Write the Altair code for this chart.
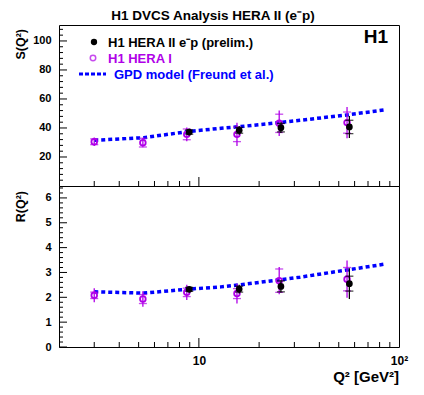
import altair as alt
import pandas as pd

# ---- data ----
q2_hera1 = [3.0, 5.25, 8.7, 15.5, 25.2, 55.0]
s_hera1 = [30.5, 29.9, 35.6, 35.6, 43.2, 43.7]
s_hera1_stat = [2.0, 3.0, 3.7, 5.0, 6.3, 7.3]
s_hera1_tot = [3.0, 3.2, 4.8, 8.0, 8.8, 10.7]
r_hera1 = [2.08, 1.93, 2.2, 2.15, 2.67, 2.73]
r_hera1_stat = [0.13, 0.18, 0.17, 0.2, 0.47, 0.47]
r_hera1_tot = [0.28, 0.31, 0.31, 0.4, 0.55, 0.75]

q2_hera2 = [8.95, 15.9, 25.7, 56.5]
s_hera2 = [37.2, 38.4, 40.2, 40.7]
s_hera2_stat = [1.5, 2.0, 2.9, 4.6]
s_hera2_tot = [2.2, 3.0, 3.7, 7.6]
r_hera2 = [2.32, 2.33, 2.44, 2.55]
r_hera2_stat = [0.08, 0.12, 0.22, 0.3]
r_hera2_tot = [0.12, 0.18, 0.25, 0.62]

q2_model = [3.0, 5.3, 8.9, 12.9, 16.0, 25.0, 32.0, 55.0, 84.0]
s_model = [31.5, 33.3, 37.6, 39.8, 40.9, 43.7, 45.3, 49.0, 52.4]
r_model = [2.22, 2.17, 2.33, 2.42, 2.5, 2.7, 2.81, 3.1, 3.33]

x_minor = [3, 4, 5, 6, 7, 8, 9, 20, 30, 40, 50, 60, 70, 80, 90]
x_major = [10]
x_labels = [10, 100]
s_major = [20, 40, 60, 80, 100]
s_minor = [4, 8, 12, 16, 24, 28, 32, 36, 44, 48, 52, 56, 64, 68, 72, 76, 84, 88, 92, 96, 104, 108]
r_major = [0, 1, 2, 3, 4, 5, 6]
r_minor = [0.2, 0.4, 0.6, 0.8, 1.2, 1.4, 1.6, 1.8, 2.2, 2.4, 2.6, 2.8, 3.2, 3.4, 3.6, 3.8,
           4.2, 4.4, 4.6, 4.8, 5.2, 5.4, 5.6, 5.8, 6.2, 6.4]

W, H = 340, 161
MAG = "#b000e8"
BLUE = "#0000ff"
FONT = "Liberation Sans"


def panel(vals1, st1, tt1, vals2, st2, tt2, model, domain, majors, minors, yvals, bottom):
    xaxis = None
    if bottom:
        xaxis = alt.Axis(values=x_labels, labelExpr="datum.value == 100 ? '10²' : '10'",
                         ticks=False, domain=False, grid=False, title=None, labelPadding=8,
                         labelFlush=False, labelFont=FONT, labelFontSize=12,
                         labelFontWeight="bold", labelColor="black")
    X = alt.X("q2:Q", scale=alt.Scale(type="log", domain=[2, 100], nice=False), axis=xaxis)

    def Y(f):
        return alt.Y(f + ":Q", scale=alt.Scale(domain=domain, nice=False, zero=False),
                     axis=alt.Axis(values=yvals, ticks=False, domain=False, grid=False, title=None,
                                   labelPadding=8, labelFont=FONT, labelFontSize=11,
                                   labelFontWeight="bold", labelColor="black"))

    def frame(q, v, st, tt):
        return pd.DataFrame({
            "q2": q, "v": v,
            "lo": [a - b for a, b in zip(v, tt)], "hi": [a + b for a, b in zip(v, tt)],
            "slo": [a - b for a, b in zip(v, st)], "shi": [a + b for a, b in zip(v, st)],
        })

    d1 = frame(q2_hera1, vals1, st1, tt1)
    d2 = frame(q2_hera2, vals2, st2, tt2)
    dm = pd.DataFrame({"q2": q2_model, "v": model})
    cap = "M-1,0L1,0"

    layers = []
    # axis ticks drawn inward
    layers.append(alt.Chart(pd.DataFrame({"v": majors})).mark_rule(color="black", strokeWidth=1)
                  .encode(y=Y("v"), x=alt.value(0), x2=alt.value(8)))
    layers.append(alt.Chart(pd.DataFrame({"v": minors})).mark_rule(color="black", strokeWidth=1)
                  .encode(y=Y("v"), x=alt.value(0), x2=alt.value(4)))
    layers.append(alt.Chart(pd.DataFrame({"q2": x_minor})).mark_rule(color="black", strokeWidth=1)
                  .encode(x=X, y=alt.value(H), y2=alt.value(H - 5)))
    layers.append(alt.Chart(pd.DataFrame({"q2": x_major})).mark_rule(color="black", strokeWidth=1)
                  .encode(x=X, y=alt.value(H), y2=alt.value(H - 9)))
    # model
    layers.append(alt.Chart(dm).mark_line(color=BLUE, strokeWidth=3.5, strokeDash=[4, 3])
                  .encode(x=X, y=Y("v")))
    # HERA I
    layers.append(alt.Chart(d1).mark_rule(color=MAG, strokeWidth=1.3).encode(x=X, y=Y("lo"), y2="hi"))
    for f in ["slo", "shi"]:
        layers.append(alt.Chart(d1).mark_point(shape=cap, size=64, color=MAG, strokeWidth=1.3, filled=False)
                      .encode(x=X, y=Y(f)))
    layers.append(alt.Chart(d1).mark_point(shape="circle", size=32, color=MAG, strokeWidth=1.8,
                                           filled=False, opacity=1).encode(x=X, y=Y("v")))
    # HERA II
    layers.append(alt.Chart(d2).mark_rule(color="black", strokeWidth=1.3).encode(x=X, y=Y("lo"), y2="hi"))
    for f in ["slo", "shi"]:
        layers.append(alt.Chart(d2).mark_point(shape=cap, size=64, color="black", strokeWidth=1.3, filled=False)
                      .encode(x=X, y=Y(f)))
    layers.append(alt.Chart(d2).mark_circle(size=45, color="black", opacity=1).encode(x=X, y=Y("v")))
    return layers


one = pd.DataFrame({"a": [0]})


def txt(text, x, y, size=13, color="black", weight="bold", align="left", baseline="alphabetic", angle=0):
    return alt.Chart(one).mark_text(text=text, font=FONT, fontSize=size, color=color, fontWeight=weight,
                                    align=align, baseline=baseline, angle=angle).encode(
        x=alt.value(x), y=alt.value(y))


top_layers = panel(s_hera1, s_hera1_stat, s_hera1_tot, s_hera2, s_hera2_stat, s_hera2_tot, s_model,
                   [0, 111], s_major, s_minor, s_major, False)
top_layers += [
    alt.Chart(one).mark_rule(strokeWidth=0, opacity=0).encode(x=alt.value(-50), y=alt.value(-16)),
    txt("H1 DVCS Analysis HERA II (e⁻p)", 154, -16, size=13.5, weight="bold", align="center",
        baseline="top"),
    txt("H1", 329, 18, size=19, align="right"),
    alt.Chart(one).mark_circle(size=40, color="black", opacity=1).encode(x=alt.value(35), y=alt.value(17)),
    txt("H1 HERA II e⁻p (prelim.)", 49, 22),
    alt.Chart(one).mark_point(shape="circle", size=30, color=MAG, strokeWidth=1.5, filled=False)
    .encode(x=alt.value(34), y=alt.value(33)),
    txt("H1 HERA I", 49, 38, color=MAG),
    alt.Chart(one).mark_rule(color=BLUE, strokeWidth=3, strokeDash=[4, 2])
    .encode(x=alt.value(20), x2=alt.value(47), y=alt.value(49)),
    txt("GPD model (Freund et al.)", 55, 54, color=BLUE),
    txt("S(Q²)", -38, 4, size=12.5, align="right", baseline="middle", angle=270),
]
top = alt.layer(*top_layers).properties(width=W, height=H)

bot_layers = panel(r_hera1, r_hera1_stat, r_hera1_tot, r_hera2, r_hera2_stat, r_hera2_tot, r_model,
                   [0, 6.48], r_major, r_minor, r_major, True)
bot_layers += [
    txt("R(Q²)", -38, 5, size=12.5, align="right", baseline="middle", angle=270),
    txt("Q² [GeV²]", 340, H + 35, size=15, align="right"),
]
bot = alt.layer(*bot_layers).properties(width=W, height=H)

chart = alt.vconcat(top, bot, spacing=0, bounds="flush").properties(
    padding=0, background="white").configure_view(stroke="black", strokeWidth=1)

chart.save("out.html", embed_options={"renderer": "svg", "actions": False})
